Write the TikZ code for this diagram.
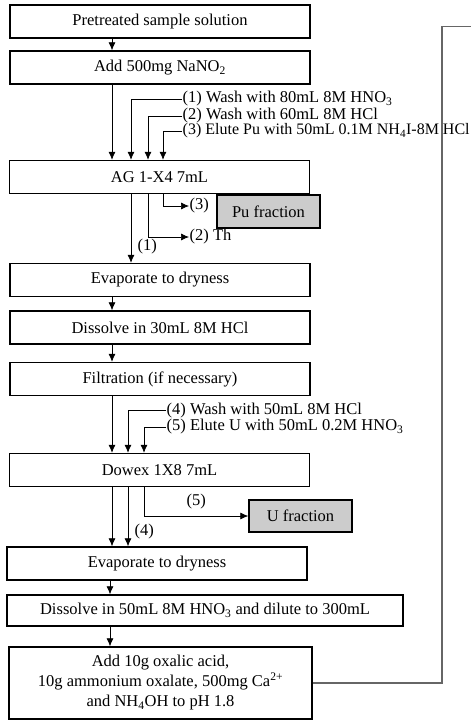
\documentclass[tikz,border=0pt]{standalone}
\usepackage{fontspec}
\setmainfont{Liberation Serif}
\usepackage{xcolor}
\usetikzlibrary{arrows.meta}

\begin{document}
\begin{tikzpicture}[x=1pt, y=-1pt,
        every node/.style={font=\fontsize{16.5}{20}\selectfont},
        stepbox/.style={draw, line width=1.3pt, minimum width=300pt, minimum height=33pt, inner sep=0pt, align=center},
        fracbox/.style={stepbox, fill=gray!40, minimum width=103pt},
        lbl/.style={inner sep=0.5pt, anchor=west},
        arr/.style={-{Latex[length=8pt, width=7pt]}, line width=0.7pt},
        fb/.style={line width=1.2pt, draw=black!60}]
        \useasboundingbox (0,0) rectangle (471,720);

        % 1. MAIN COLUMN OF STEPS
        \node[stepbox] (pre) at (160,21.5) {Pretreated sample solution};
        \node[stepbox] (nano) at (160,67.5) {Add 500mg NaNO\textsubscript{2}};
        \node[stepbox] (ag) at (159.5,177) {AG 1-X4  7mL};
        \node[stepbox] (evap1) at (160,280) {Evaporate to dryness};
        \node[stepbox] (diss1) at (160,327.5) {Dissolve in 30mL  8M HCl};
        \node[stepbox] (filt) at (160,379) {Filtration (if necessary)};
        \node[stepbox] (dowex) at (159.5,470) {Dowex 1X8  7mL};
        \node[stepbox] (evap2) at (157,563.5) {Evaporate to dryness};
        \node[stepbox, minimum width=396pt, minimum height=31pt] (diss2) at (205,610.5) {Dissolve in 50mL  8M HNO\textsubscript{3} and dilute to 300mL};
        \node[stepbox, minimum width=303pt, minimum height=72pt] (oxal) at (160.5,683)
            {Add 10g oxalic acid,\\10g ammonium  oxalate, 500mg Ca\textsuperscript{2+}\\and NH\textsubscript{4}OH to pH 1.8};

        % column positions of the connectors
        \coordinate (c0) at (112,0);
        \coordinate (c1) at (131,0);
        \coordinate (c2) at (148,0);
        \coordinate (c3) at (163,0);
        \coordinate (d1) at (128,0);
        \coordinate (d2) at (144,0);
        \coordinate (e0) at (110,0);

        \draw[arr] (pre.south -| c0) -- (nano.north -| c0);
        \draw[arr] (nano.south -| c0) -- (ag.north -| c0);
        \draw[arr] (evap1.south -| c0) -- (diss1.north -| c0);
        \draw[arr] (diss1.south -| c0) -- (filt.north -| c0);
        \draw[arr] (filt.south -| c0) -- (dowex.north -| c0);
        \draw[arr] (evap2.south -| e0) -- (diss2.north -| e0);
        \draw[arr] (diss2.south -| e0) -- (oxal.north -| e0);

        % 2. FIRST COLUMN (AG 1-X4): loads and fractions
        \node[lbl] (w1) at (182,99) {(1) Wash with 80mL  8M HNO\textsubscript{3}};
        \node[lbl] (w2) at (182,116) {(2) Wash with 60mL  8M HCl};
        \node[lbl, font=\fontsize{16}{20}\selectfont] (w3) at (182,131) {(3) Elute Pu with 50mL  0.1M NH\textsubscript{4}I-8M HCl};
        \draw[arr] (w1.west) -| (ag.north -| c1);
        \draw[arr] (w2.west) -| (ag.north -| c2);
        \draw[arr] (w3.west) -| (ag.north -| c3);

        \draw[arr] (ag.south -| c1) -- (evap1.north -| c1);
        \node[lbl] (o1) at (137,247) {(1)};
        \node[lbl] (o3) at (189,206) {(3)};
        \node[fracbox] (pu) at (268.5,211.5) {Pu fraction};
        \draw[arr] (ag.south -| c3) |- (o3.west);
        \node[lbl] (o2) at (189,237) {(2) Th};
        \draw[arr] (ag.south -| c2) |- (o2.west);

        % 3. SECOND COLUMN (Dowex 1X8)
        \node[lbl] (w4) at (166,410.5) {(4) Wash with 50mL  8M HCl};
        \node[lbl] (w5) at (166,427) {(5) Elute U with 50mL  0.2M HNO\textsubscript{3}};
        \draw[arr] (w4.west) -| (dowex.north -| d1);
        \draw[arr] (w5.west) -| (dowex.north -| d2);

        \draw[arr] (dowex.south -| c0) -- (evap2.north -| c0);
        \draw[arr] (dowex.south -| d1) -- (evap2.north -| d1);
        \node[lbl] (o4) at (134,532) {(4)};
        \node[fracbox, minimum height=32pt] (ufr) at (300.5,516) {U fraction};
        \draw[arr] (dowex.south -| d2) |- (ufr.west) node[pos=0.75, above=3pt] {(5)};

        % 4. RETURN LINE (off to the right)
        \coordinate (fbtop) at (442,26.5);
        \coordinate (out) at (471,26.5);
        \draw[fb] (oxal.east) -| (fbtop) -- (out);

    \end{tikzpicture}
\end{document}
